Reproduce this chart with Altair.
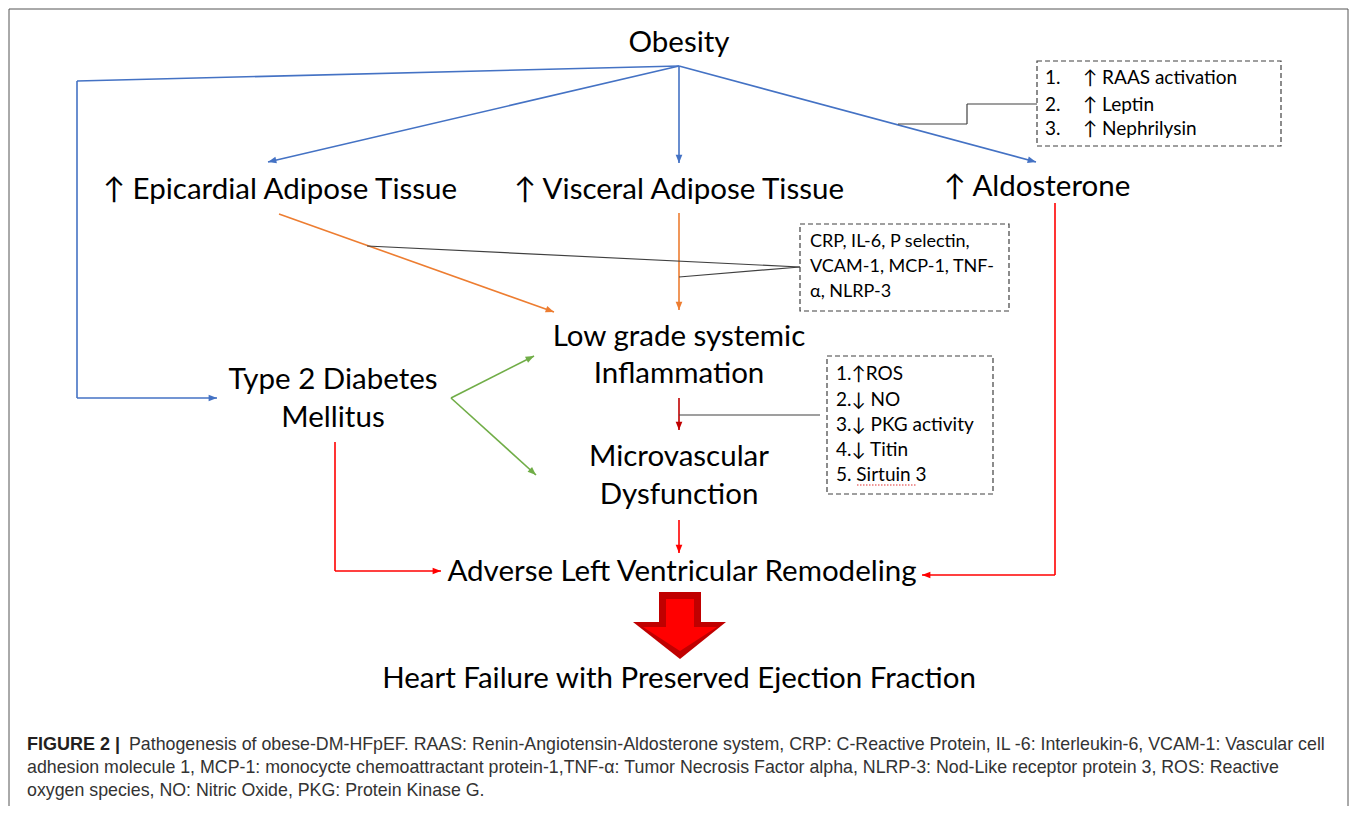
import math
import altair as alt
import pandas as pd

# ---------------- data ----------------
# main node labels (one row per text line)
node_text = [
    "Obesity",
    "↑ Epicardial Adipose Tissue",
    "↑ Visceral Adipose Tissue",
    "↑ Aldosterone",
    "Low grade systemic",
    "Inflammation",
    "Type 2 Diabetes",
    "Mellitus",
    "Microvascular",
    "Dysfunction",
    "Adverse Left Ventricular Remodeling",
    "Heart Failure with Preserved Ejection Fraction",
]
node_x = [679, 280, 679, 1037, 679, 679, 333, 333, 679, 679, 682, 679]
node_y = [43, 190, 190, 187, 337, 374, 380, 418, 457, 495, 572, 679]

# dashed boxes
box_x1 = [1037, 800, 827]
box_y1 = [61, 224, 356]
box_x2 = [1281, 1009, 993]
box_y2 = [146, 311, 494]

# list texts inside the boxes
list_text = [
    "1.", "2.", "3.",
    "↑ RAAS activation", "↑ Leptin", "↑ Nephrilysin",
    "CRP, IL-6, P selectin,", "VCAM-1, MCP-1, TNF-", "α, NLRP-3",
    "1.↑ROS", "2.↓ NO", "3.↓ PKG activity", "4.↓ Titin", "5. Sirtuin 3",
]
list_x = [1045, 1045, 1045, 1083, 1083, 1083, 810, 810, 810, 836, 836, 836, 836, 836]
list_y = [78, 105, 129, 78, 105, 129, 242, 267, 292, 374, 400, 425, 450, 475]
list_fs = [19] * 6 + [18] * 3 + [19] * 5

# line segments (head = 1 means an arrowhead at the end)
BLUE, ORANGE, GREEN, DRED, RED, GREY = "#4472C4", "#ED7D31", "#70AD47", "#C00000", "#FF0000", "#404040"
seg_x1 = [679, 77, 77, 679, 679, 679, 279, 679, 451, 451, 679, 679, 335, 335, 1055, 1055,
          1037, 967, 967, 800, 800, 820]
seg_y1 = [66, 81, 398, 66, 66, 66, 214, 213, 398, 398, 398, 520, 442, 571, 203, 575,
          104, 104, 124, 267, 267, 415]
seg_x2 = [77, 77, 217, 268, 679, 1036, 554, 679, 534, 536, 679, 679, 335, 441, 1055, 922,
          967, 967, 898, 367, 679, 679]
seg_y2 = [81, 398, 398, 162, 163, 162, 312, 310, 356, 475, 430, 553, 571, 571, 575, 575,
          104, 124, 124, 246, 277, 415]
seg_color = [BLUE] * 6 + [ORANGE] * 2 + [GREEN] * 2 + [DRED] + [RED] * 5 + [GREY] * 6
seg_head = [0, 0, 1, 1, 1, 1, 1, 1, 1, 1, 1, 1, 0, 1, 0, 1, 0, 0, 0, 0, 0, 0]
seg_width = [1.6] * 16 + [1.2] * 6

# big block arrow (outer dark outline, inner bright fill)
outer_shaft = [659, 592, 701, 626]
outer_head_x = [633, 680, 726]
outer_head_top = [622, 622, 622]
outer_head_bot = [622, 659, 622]
inner_shaft = [666, 599, 694, 630]
inner_head_x = [643, 680, 717]
inner_head_top = [627, 627, 627]
inner_head_bot = [627, 651, 627]

# spell-check squiggle under "Sirtuin"
squiggle = [857, 916, 485]

# frame
frame_x1 = [9, 9, 1348]
frame_y1 = [9, 9, 9]
frame_x2 = [9, 1348, 1348]
frame_y2 = [814, 9, 814]

# caption
cap_bold = "FIGURE 2 |"
cap_lines = [
    "Pathogenesis of obese-DM-HFpEF. RAAS: Renin-Angiotensin-Aldosterone system, CRP: C-Reactive Protein, IL -6: Interleukin-6, VCAM-1: Vascular cell",
    "adhesion molecule 1, MCP-1: monocycte chemoattractant protein-1,TNF-α: Tumor Necrosis Factor alpha, NLRP-3: Nod-Like receptor protein 3, ROS: Reactive",
    "oxygen species, NO: Nitric Oxide, PKG: Protein Kinase G.",
]
cap_x = [129, 27, 27]
cap_y = [745, 768, 791]
cap_bold_x, cap_bold_y = 27, 745

# ---------------- chart ----------------
W, H = 1341, 798
xs = alt.Scale(domain=[8, 8 + W], nice=False, zero=False)
ys = alt.Scale(domain=[8, 8 + H], nice=False, zero=False, reverse=True)


def X(f="x"):
    return alt.X(f"{f}:Q", scale=xs, axis=None)


def Y(f="y"):
    return alt.Y(f"{f}:Q", scale=ys, axis=None)


FONT = "Lato"

frame = alt.Chart(pd.DataFrame({"x": frame_x1, "y": frame_y1, "x2": frame_x2, "y2": frame_y2})).mark_rule(
    color="#555555", strokeWidth=1
).encode(x=X(), y=Y(), x2="x2:Q", y2="y2:Q")

segs = pd.DataFrame({"x": seg_x1, "y": seg_y1, "x2": seg_x2, "y2": seg_y2,
                     "c": seg_color, "w": seg_width, "h": seg_head})
lines = alt.Chart(segs).mark_rule().encode(
    x=X(), y=Y(), x2="x2:Q", y2="y2:Q",
    color=alt.Color("c:N", scale=None),
    strokeWidth=alt.StrokeWidth("w:Q", scale=None),
)

# arrowheads derived from the segments
HEAD_SIZE = 70
half = math.sqrt(HEAD_SIZE) / 2
hx, hy, ha, hc = [], [], [], []
for x1, y1, x2, y2, c, h in zip(seg_x1, seg_y1, seg_x2, seg_y2, seg_color, seg_head):
    if not h:
        continue
    dx, dy = x2 - x1, y2 - y1
    L = math.hypot(dx, dy)
    ux, uy = dx / L, dy / L
    hx.append(x2 - ux * half)
    hy.append(y2 - uy * half)
    ha.append(math.degrees(math.atan2(dx, -dy)) % 360)
    hc.append(c)
heads = alt.Chart(pd.DataFrame({"x": hx, "y": hy, "a": ha, "c": hc})).mark_point(
    shape="M0,-1L0.8,1L-0.8,1Z", filled=True, opacity=1, size=HEAD_SIZE, strokeWidth=0
).encode(x=X(), y=Y(), angle=alt.Angle("a:Q", scale=None), color=alt.Color("c:N", scale=None))

boxes = alt.Chart(pd.DataFrame({"x": box_x1, "y": box_y1, "x2": box_x2, "y2": box_y2})).mark_rect(
    fillOpacity=0, stroke="#404040", strokeWidth=1.2, strokeDash=[5, 3]
).encode(x=X(), y=Y(), x2="x2:Q", y2="y2:Q")

nodes = alt.Chart(pd.DataFrame({"x": node_x, "y": node_y, "t": node_text})).mark_text(
    font=FONT, fontSize=29.5, align="center", baseline="middle", color="#000000"
).encode(x=X(), y=Y(), text="t:N")

lists = alt.Chart(pd.DataFrame({"x": list_x, "y": list_y, "t": list_text, "fs": list_fs})).mark_text(
    font=FONT, align="left", baseline="middle", color="#000000"
).encode(x=X(), y=Y(), text="t:N", size=alt.Size("fs:Q", scale=None))

sq = alt.Chart(pd.DataFrame({"x": [squiggle[0]], "x2": [squiggle[1]], "y": [squiggle[2]]})).mark_rule(
    color="#E03030", strokeWidth=1.2, strokeDash=[1.5, 1.5]
).encode(x=X(), x2="x2:Q", y=Y())


def shaft(vals, color):
    return alt.Chart(pd.DataFrame({"x": [vals[0]], "y": [vals[1]], "x2": [vals[2]], "y2": [vals[3]]})).mark_rect(
        color=color
    ).encode(x=X(), y=Y(), x2="x2:Q", y2="y2:Q")


def head(xv, top, bot, color):
    return alt.Chart(pd.DataFrame({"x": xv, "y": top, "y2": bot})).mark_area(
        color=color, opacity=1, interpolate="linear"
    ).encode(x=X(), y=Y(), y2="y2:Q")


big = alt.layer(
    shaft(outer_shaft, DRED), head(outer_head_x, outer_head_top, outer_head_bot, DRED),
    shaft(inner_shaft, RED), head(inner_head_x, inner_head_top, inner_head_bot, RED),
)

cap_b = alt.Chart(pd.DataFrame({"x": [cap_bold_x], "y": [cap_bold_y], "t": [cap_bold]})).mark_text(
    font="Liberation Sans", fontSize=18, fontWeight="bold", align="left", baseline="middle", color="#231F20"
).encode(x=X(), y=Y(), text="t:N")
cap = alt.Chart(pd.DataFrame({"x": cap_x, "y": cap_y, "t": cap_lines})).mark_text(
    font="Liberation Sans", fontSize=17.8, align="left", baseline="middle", color="#333333"
).encode(x=X(), y=Y(), text="t:N")

chart = alt.layer(frame, lines, heads, boxes, nodes, lists, sq, big, cap_b, cap).properties(
    width=W, height=H, padding=0, autosize=alt.AutoSizeParams(type="none")
).configure_view(stroke=None)

chart.save("out.html", embed_options={"renderer": "svg", "actions": False})
